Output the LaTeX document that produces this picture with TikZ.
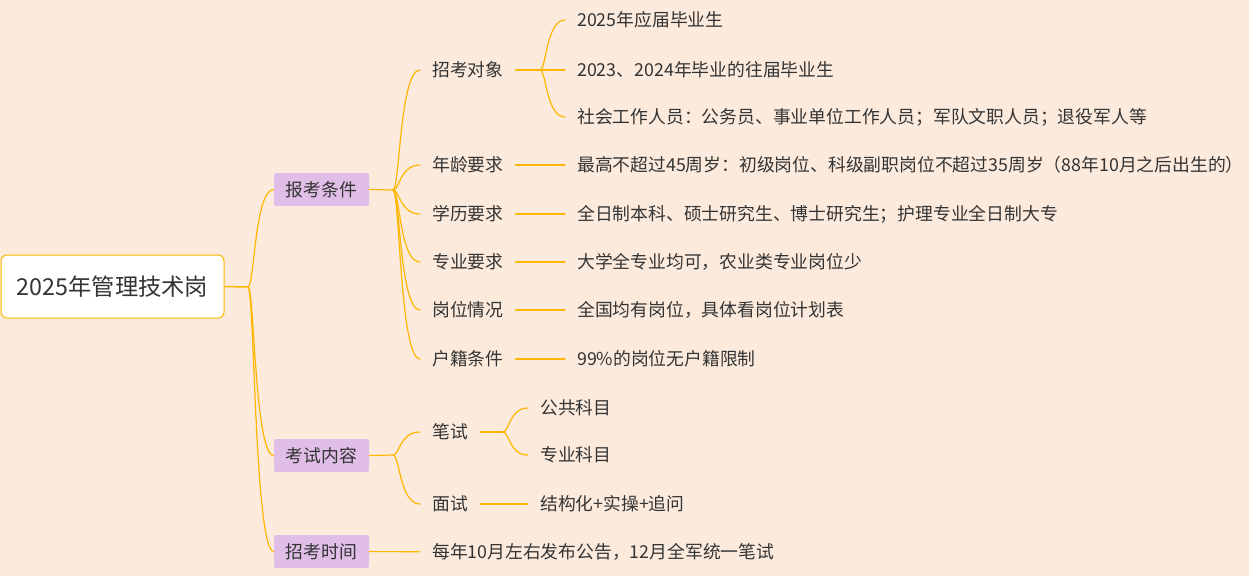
\documentclass[tikz,border=0pt]{standalone}
\usepackage{fontspec}
\setmainfont{Noto Sans CJK SC}
\usetikzlibrary{calc}
\definecolor{bgpeach}{RGB}{252,235,221}
\definecolor{branchline}{RGB}{255,182,0}
\definecolor{topicpurple}{RGB}{225,190,232}
\definecolor{inkgray}{RGB}{51,51,51}
\tikzset{
  rootbox/.style={draw=branchline,line width=1pt,fill=white,rounded corners=6pt,
    minimum width=223pt,minimum height=63pt,inner sep=0pt,
    font=\fontsize{23.3}{27}\selectfont,text=inkgray},
  mainbox/.style={fill=topicpurple,rounded corners=1.5pt,minimum width=95pt,
    minimum height=33pt,inner sep=0pt,font=\fontsize{17.8}{21}\selectfont,text=inkgray},
  leaf/.style={anchor=west,inner xsep=12pt,inner ysep=0pt,
    font=\fontsize{17.8}{21}\selectfont,text=inkgray},
  link/.style={draw=branchline,line width=1.2pt,line cap=round},
}
% curved branch from a junction to the west side of a node
\newcommand{\curvelink}[2]{%
  \path ($(#1)!0.25!(#2.west)$) coordinate (mid);
  \draw[link] (#1) .. controls (#1 -| mid) and (#2.west -| mid) .. (#2.west);
}
\begin{document}
\begin{tikzpicture}[x=1pt,y=-1pt]
  \useasboundingbox (0,0) rectangle (1249,576);
  \fill[bgpeach] (0,0) rectangle (1249,576);
  % root and main topics
  \node[rootbox] (root) at (112.5,286.5) {2025年管理技术岗};
  \node[mainbox] (cond) at (321.5,189.5) {报考条件};
  \node[mainbox] (exam) at (321.5,455.5) {考试内容};
  \node[mainbox] (time) at (321.5,551.5) {招考时间};
  % 报考条件
  \node[leaf] (obj)   at (420,70)  {招考对象};
  \node[leaf] (age)   at (420,165) {年龄要求};
  \node[leaf] (edu)   at (420,214) {学历要求};
  \node[leaf] (major) at (420,262) {专业要求};
  \node[leaf] (post)  at (420,310) {岗位情况};
  \node[leaf] (hukou) at (420,359) {户籍条件};
  \node[leaf] (obja) at (565,20)  {2025年应届毕业生};
  \node[leaf] (objb) at (565,70)  {2023、2024年毕业的往届毕业生};
  \node[leaf] (objc) at (565,117) {社会工作人员：公务员、事业单位工作人员；军队文职人员；退役军人等};
  \node[leaf] (agetxt)   at (565,165) {最高不超过45周岁：初级岗位、科级副职岗位不超过35周岁（88年10月之后出生的）};
  \node[leaf] (edutxt)   at (565,214) {全日制本科、硕士研究生、博士研究生；护理专业全日制大专};
  \node[leaf] (majortxt) at (565,262) {大学全专业均可，农业类专业岗位少};
  \node[leaf] (posttxt)  at (565,310) {全国均有岗位，具体看岗位计划表};
  \node[leaf] (hukoutxt) at (565,359) {99\%的岗位无户籍限制};
  % 考试内容
  \node[leaf] (written)   at (420,432) {笔试};
  \node[leaf] (interview) at (420,504) {面试};
  \node[leaf] (pub)  at (528,408) {公共科目};
  \node[leaf] (prof) at (528,455) {专业科目};
  \node[leaf] (intvtxt) at (528,504) {结构化+实操+追问};
  % 招考时间
  \node[leaf] (timetxt) at (420,552) {每年10月左右发布公告，12月全军统一笔试};
  % junctions
  \coordinate (jroot) at (248,287);
  \coordinate (jcond) at (393,190);
  \coordinate (jobj) at (540,70);
  \coordinate (jexam) at (393,455);
  \coordinate (jwritten) at (503,432);
  % connectors
  \draw[link,line width=1.5pt] (root.east) -- (jroot);
  \foreach \n in {cond,exam,time} {\curvelink{jroot}{\n}}
  \draw[link] (cond.east) -- (jcond);
  \foreach \n in {obj,age,edu,major,post,hukou} {\curvelink{jcond}{\n}}
  \draw[link] (obj.east) -- (jobj);
  \foreach \n in {obja,objb,objc} {\curvelink{jobj}{\n}}
  \draw[link] (age) -- (agetxt);
  \draw[link] (edu) -- (edutxt);
  \draw[link] (major) -- (majortxt);
  \draw[link] (post) -- (posttxt);
  \draw[link] (hukou) -- (hukoutxt);
  \draw[link] (exam.east) -- (jexam);
  \foreach \n in {written,interview} {\curvelink{jexam}{\n}}
  \draw[link] (written.east) -- (jwritten);
  \foreach \n in {pub,prof} {\curvelink{jwritten}{\n}}
  \draw[link] (interview) -- (intvtxt);
  \draw[link] (time) -- (timetxt);
\end{tikzpicture}
\end{document}
